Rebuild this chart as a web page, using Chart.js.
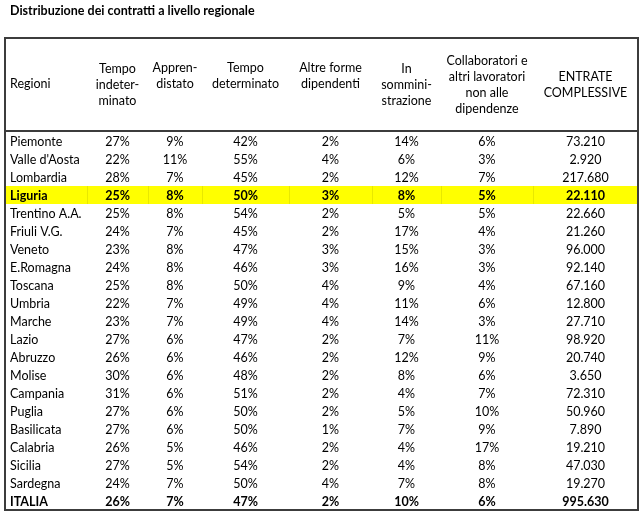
<!DOCTYPE html>
<html lang="it">
<head>
<meta charset="utf-8">
<title>Distribuzione dei contratti a livello regionale</title>
<script src="https://cdn.jsdelivr.net/npm/chart.js@4/dist/chart.umd.min.js"></script>
<style>
	html, body { margin: 0; padding: 0; background: #fff; }
	#wrap { width: 644px; height: 519px; position: relative; }
</style>
</head>
<body>
<div id="wrap"><canvas id="contrattiChart"></canvas></div>
<script>
const titolo = 'Distribuzione dei contratti a livello regionale';

const regioni = ['Piemonte', "Valle d'Aosta", 'Lombardia', 'Liguria', 'Trentino A.A.', 'Friuli V.G.', 'Veneto',
	'E.Romagna', 'Toscana', 'Umbria', 'Marche', 'Lazio', 'Abruzzo', 'Molise', 'Campania', 'Puglia',
	'Basilicata', 'Calabria', 'Sicilia', 'Sardegna', 'ITALIA'];

const tempoIndeterminato = [27, 22, 28, 25, 25, 24, 23, 24, 25, 22, 23, 27, 26, 30, 31, 27, 27, 26, 27, 24, 26];
const apprendistato      = [9, 11, 7, 8, 8, 7, 8, 8, 8, 7, 7, 6, 6, 6, 6, 6, 6, 5, 5, 7, 7];
const tempoDeterminato   = [42, 55, 45, 50, 54, 45, 47, 46, 50, 49, 49, 47, 46, 48, 51, 50, 50, 46, 54, 50, 47];
const altreForme         = [2, 4, 2, 3, 2, 2, 3, 3, 4, 4, 4, 2, 2, 2, 2, 2, 1, 2, 2, 4, 2];
const somministrazione   = [14, 6, 12, 8, 5, 17, 15, 16, 9, 11, 14, 7, 12, 8, 4, 5, 7, 4, 4, 7, 10];
const collaboratori      = [6, 3, 7, 5, 5, 4, 3, 3, 4, 6, 3, 11, 9, 6, 7, 10, 9, 17, 8, 8, 6];
const entrate            = [73210, 2920, 217680, 22110, 22660, 21260, 96000, 92140, 67160, 12800, 27710, 98920,
	20740, 3650, 72310, 50960, 7890, 19210, 47030, 19270, 995630];

const intestazioni = [
	['Regioni'],
	['Tempo', 'indeter-', 'minato'],
	['Appren-', 'distato'],
	['Tempo', 'determinato'],
	['Altre forme', 'dipendenti'],
	['In', 'sommini-', 'strazione'],
	['Collaboratori e', 'altri lavoratori', 'non alle', 'dipendenze'],
	['ENTRATE', 'COMPLESSIVE']
];

const righeEvidenziate = ['Liguria'];
const righeGrassetto = ['Liguria', 'ITALIA'];

// layout of the sheet (column widths in px, header text middles above the body)
const larghezzeColonne = [82, 61, 54, 87, 83, 69, 92, 105];
const mezzoIntestazione = [48, 47, 56, 56, 56, 47, 47, 47];
const FONT = '"Lato", "Open Sans", sans-serif';
const SIZE = '12.5px ';
const TESTO = '#000000';
const BORDO = '#3c3c3c';

const bordi = [0];
larghezzeColonne.forEach(w => bordi.push(bordi[bordi.length - 1] + w));
const centri = larghezzeColonne.map((w, i) => i === 0 ? 5 : bordi[i] + w / 2);

const fmtPerc = v => v + '%';
const fmtNum = v => String(v).replace(/\B(?=(\d{3})+(?!\d))/g, '.');

const colonne = [
	regioni,
	tempoIndeterminato.map(fmtPerc),
	apprendistato.map(fmtPerc),
	tempoDeterminato.map(fmtPerc),
	altreForme.map(fmtPerc),
	somministrazione.map(fmtPerc),
	collaboratori.map(fmtPerc),
	entrate.map(fmtNum)
];

const datasets = colonne.map((testi, c) => ({
	label: intestazioni[c].join(' '),
	data: regioni.map(r => ({ x: centri[c], y: r })),
	testi: testi,
	allinea: c === 0 ? 'left' : 'center',
	pointRadius: 0,
	pointHoverRadius: 0
}));

const tabellaPlugin = {
	id: 'tabella',
	beforeDatasetsDraw(chart) {
		const { ctx, chartArea, scales: { x, y } } = chart;
		const passo = y.getPixelForValue(1) - y.getPixelForValue(0);
		ctx.save();
		righeEvidenziate.forEach(r => {
			const cy = y.getPixelForValue(regioni.indexOf(r));
			ctx.fillStyle = '#ffff00';
			ctx.fillRect(chartArea.left, cy - passo / 2, chartArea.right - chartArea.left, passo);
			ctx.strokeStyle = 'rgba(0,0,0,0.09)';
			ctx.lineWidth = 1;
			bordi.slice(1, -1).forEach(b => {
				const px = Math.round(x.getPixelForValue(b)) + 0.5;
				ctx.beginPath();
				ctx.moveTo(px, cy - passo / 2);
				ctx.lineTo(px, cy + passo / 2);
				ctx.stroke();
			});
		});
		ctx.restore();
	},
	afterDatasetsDraw(chart) {
		const { ctx } = chart;
		ctx.save();
		ctx.textBaseline = 'middle';
		ctx.fillStyle = TESTO;
		chart.data.datasets.forEach((ds, i) => {
			const meta = chart.getDatasetMeta(i);
			ctx.textAlign = ds.allinea;
			meta.data.forEach((el, j) => {
				const bold = righeGrassetto.includes(regioni[j]);
				ctx.font = (bold ? 'bold ' : '') + SIZE + FONT;
				ctx.fillText(ds.testi[j], el.x, el.y + 0.5);
			});
		});
		ctx.restore();
	},
	afterDraw(chart) {
		const { ctx, chartArea, scales: { x } } = chart;
		const top = chartArea.top - 94;
		ctx.save();
		// title
		ctx.fillStyle = TESTO;
		ctx.font = 'bold ' + SIZE + FONT;
		ctx.textAlign = 'left';
		ctx.textBaseline = 'middle';
		ctx.fillText(titolo, chartArea.left + 5, 11);
		// header
		ctx.font = SIZE + FONT;
		intestazioni.forEach((righe, c) => {
			ctx.textAlign = c === 0 ? 'left' : 'center';
			const px = x.getPixelForValue(centri[c]);
			const mid = chartArea.top - mezzoIntestazione[c];
			righe.forEach((t, k) => {
				ctx.fillText(t, px, mid + (k - (righe.length - 1) / 2) * 16);
			});
		});
		// borders
		ctx.strokeStyle = BORDO;
		ctx.lineWidth = 2;
		ctx.strokeRect(chartArea.left, top, chartArea.right - chartArea.left, chartArea.bottom - top);
		ctx.beginPath();
		ctx.moveTo(chartArea.left, chartArea.top - 1);
		ctx.lineTo(chartArea.right, chartArea.top - 1);
		ctx.stroke();
		ctx.restore();
	}
};

new Chart(document.getElementById('contrattiChart').getContext('2d'), {
	type: 'scatter',
	data: { datasets: datasets },
	options: {
		responsive: true,
		maintainAspectRatio: false,
		animation: false,
		events: [],
		layout: { padding: { top: 132, bottom: 9, left: 5, right: 6 } },
		scales: {
			x: { type: 'linear', min: 0, max: bordi[bordi.length - 1], display: false },
			y: { type: 'category', labels: regioni, offset: true, display: false }
		},
		plugins: {
			legend: { display: false },
			tooltip: { enabled: false }
		}
	},
	plugins: [tabellaPlugin]
});
</script>
</body>
</html>
